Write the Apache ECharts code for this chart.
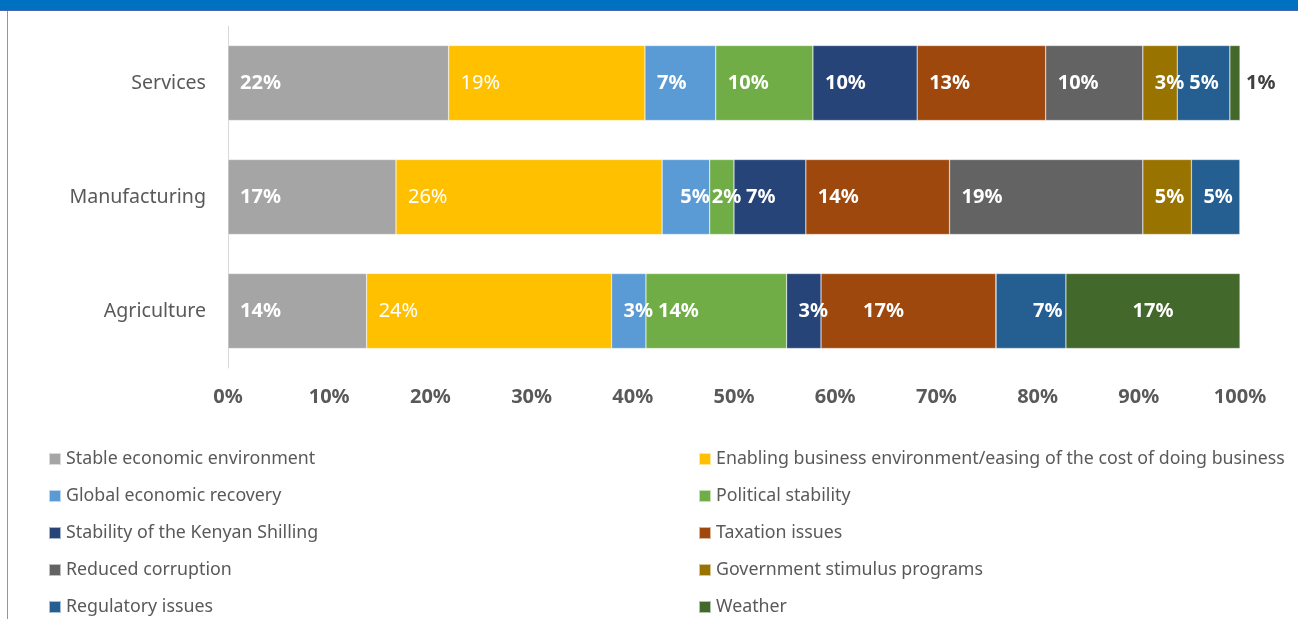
<!DOCTYPE html>
<html>
<head>
<meta charset="utf-8">
<script src="https://cdn.jsdelivr.net/npm/echarts@6/dist/echarts.min.js"></script>
<style>
html,body{margin:0;padding:0;background:#fff;}
#c{width:1298px;height:619px;}
</style>
</head>
<body>
<div id="c"></div>
<script>
// ---- data ----
const categories = ['Agriculture', 'Manufacturing', 'Services'];
const seriesNames = [
  'Stable economic environment',
  'Enabling business environment/easing of the cost of doing business',
  'Global economic recovery',
  'Political stability',
  'Stability of the Kenyan Shilling',
  'Taxation issues',
  'Reduced corruption',
  'Government stimulus programs',
  'Regulatory issues',
  'Weather'
];
// values per series: [Agriculture, Manufacturing, Services]
const stableEconomic   = [13.7, 16.6, 21.8];
const enablingBusiness = [24.2, 26.3, 19.4];
const globalRecovery   = [3.4, 4.7, 7.0];
const politicalStab    = [13.9, 2.4, 9.6];
const shillingStab     = [3.4, 7.1, 10.3];
const taxation         = [17.3, 14.2, 12.7];
const reducedCorrupt   = [0, 19.1, 9.6];
const govStimulus      = [0, 4.8, 3.4];
const regulatory       = [6.9, 4.8, 5.2];
const weather          = [17.2, 0, 1.0];
const xTicks = ['0%','10%','20%','30%','40%','50%','60%','70%','80%','90%','100%'];

const seriesValues = [stableEconomic, enablingBusiness, globalRecovery, politicalStab, shillingStab,
  taxation, reducedCorrupt, govStimulus, regulatory, weather];
const colors = ['#A5A5A5','#FFC000','#5B9BD5','#70AD47','#264478','#9E480E','#636363','#997300','#255E91','#43682B'];

const FONT = 'Noto Sans';
const series = seriesNames.map((name, si) => ({
  name: name,
  type: 'bar',
  stack: 'total',
  barWidth: 75,
  itemStyle: { color: colors[si], borderColor: 'rgba(255,255,255,0.6)', borderWidth: 0.5 },
  label: {
    show: true,
    position: 'insideLeft',
    distance: 12,
    fontFamily: FONT,
    fontSize: 20,
    fontWeight: si === 1 ? 'normal' : 'bold',
    color: '#fff',
    formatter: p => p.value > 0 ? Math.round(p.value) + '%' : ''
  },
  data: seriesValues[si].map((v, ci) => {
    const d = { value: v };
    if (si === 9 && ci === 2) d.label = { position: 'right', distance: 6, color: '#404040' };
    if (si === 2 && ci === 1) d.label = { position: 'insideRight', distance: 0 };
    if (si === 3 && ci === 1) d.label = { position: 'insideLeft', distance: 2 };
    if (si === 5 && ci === 0) d.label = { position: 'insideLeft', distance: 42 };
    if (si === 8 && ci === 0) d.label = { position: 'insideLeft', distance: 37 };
    if (si === 9 && ci === 0) d.label = { position: 'inside' };
    return d;
  })
}));

const legendText = { fontFamily: FONT, fontSize: 17.8, color: '#595959', lineHeight: 20 };
const chart = echarts.init(document.getElementById('c'), null, { renderer: 'canvas' });
chart.setOption({
  animation: false,
  textStyle: { fontFamily: FONT },
  grid: { left: 228, right: 58, top: 26, height: 342, containLabel: false },
  xAxis: {
    type: 'value', min: 0, max: 100, interval: 10,
    splitLine: { show: false },
    axisLine: { show: false }, axisTick: { show: false },
    axisLabel: {
      margin: 19, fontFamily: FONT, fontSize: 20, fontWeight: 'bold', color: '#595959',
      formatter: v => xTicks[Math.round(v / 10)]
    }
  },
  yAxis: {
    type: 'category', data: categories,
    axisLine: { show: true, lineStyle: { color: '#D9D9D9', width: 1 } },
    axisTick: { show: false },
    axisLabel: { margin: 22, fontFamily: FONT, fontSize: 19.6, color: '#595959' }
  },
  legend: [
    {
      orient: 'vertical', left: 48, top: 449, padding: 0, itemWidth: 12, itemHeight: 12, itemGap: 17,
      icon: 'rect', textStyle: legendText,
      data: [seriesNames[0], seriesNames[2], seriesNames[4], seriesNames[6], seriesNames[8]]
    },
    {
      orient: 'vertical', left: 698, top: 449, padding: 0, itemWidth: 12, itemHeight: 12, itemGap: 17,
      icon: 'rect', textStyle: legendText,
      data: [seriesNames[1], seriesNames[3], seriesNames[5], seriesNames[7], seriesNames[9]]
    }
  ],
  graphic: [
    { type: 'rect', left: 0, top: 0, shape: { width: 1298, height: 10 }, style: { fill: '#0070C0' }, silent: true },
    { type: 'rect', left: 0, top: 10, shape: { width: 1298, height: 1 }, style: { fill: '#4A66A8' }, silent: true },
    { type: 'rect', left: 7, top: 11, shape: { width: 1, height: 608 }, style: { fill: '#8496C8' }, silent: true }
  ],
  series: series
});
</script>
</body>
</html>
